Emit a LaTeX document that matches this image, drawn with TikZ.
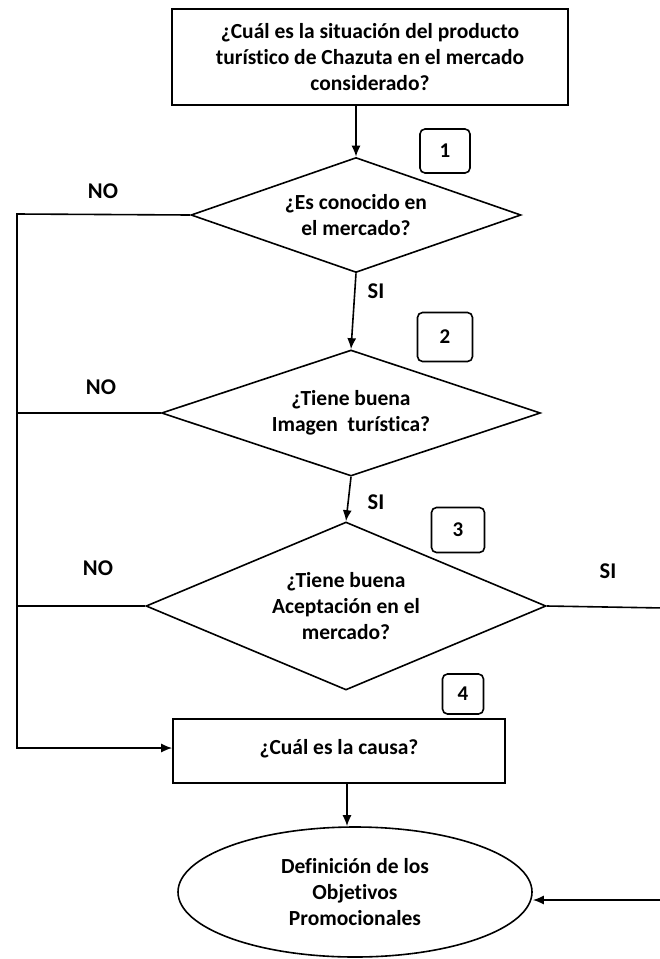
\documentclass[tikz,border=0pt]{standalone}
\usepackage{fontspec}
\setmainfont{Carlito}[Ligatures=NoCommon]
\usetikzlibrary{shapes.geometric,arrows.meta}
\begin{document}
\begin{tikzpicture}[x=1pt,y=-1pt,
  ln/.style={line width=1.6pt},
  arr/.style={line width=1.6pt,-{Latex[length=11pt,width=9pt]}},
  txt/.style={font=\bfseries\fontsize{21.5}{26}\selectfont, align=center},
  rbox/.style={draw, line width=1.6pt, inner sep=0pt, txt},
  dia/.style={draw, diamond, line width=1.6pt, inner sep=0pt, txt},
  numbox/.style={draw, rounded corners=5pt, line width=1.6pt, inner sep=0pt, font=\bfseries\fontsize{21}{24}\selectfont},
  lab/.style={font=\bfseries\fontsize{22.5}{26}\selectfont}]
\useasboundingbox (0,0) rectangle (660,959);

\node[rbox, minimum width=396pt, minimum height=96pt] (q) at (370,57)
  {\fontsize{21.5}{25}\selectfont ¿Cuál es la situación del producto\\turístico de Chazuta en el mercado\\considerado?};

\node[dia, aspect=2.87, minimum width=330pt, minimum height=115pt] (d1) at (356,215)
  {¿Es conocido en\\el mercado?};
\node[dia, aspect=3.0, minimum width=379pt, minimum height=126pt] (d2) at (351,413)
  {¿Tiene buena\\Imagen\ \ turística?};
\node[dia, aspect=2.38, minimum width=400pt, minimum height=168pt] (d3) at (346,606)
  {\fontsize{21.5}{27}\selectfont ¿Tiene buena\\Aceptación en el\\mercado?};

\node[rbox, minimum width=332pt, minimum height=64pt] (b4) at (339,751)
  {\raisebox{9pt}{¿Cuál es la causa?}};

\node[draw, ellipse, line width=1.6pt, inner sep=0pt, txt, minimum width=354pt, minimum height=130pt] (e) at (355,892)
  {\fontsize{21.5}{27.5}\selectfont Definición de los\\Objetivos\\Promocionales};

\node[numbox, minimum width=50pt, minimum height=44pt] (n1) at (445,151) {1};
\node[numbox, minimum width=55pt, minimum height=49pt] (n2) at (445,337) {2};
\node[numbox, minimum width=53pt, minimum height=45pt] (n3) at (458,530) {3};
\node[numbox, minimum width=41pt, minimum height=40pt] (n4) at (463,694) {4};

\node[lab] (no1) at (103,191) {NO};
\node[lab] (no2) at (101,387) {NO};
\node[lab] (no3) at (98,568) {NO};
\node[lab] (si1) at (376,291) {SI};
\node[lab] (si2) at (376,502) {SI};
\node[lab] (si3) at (608,571) {SI};

\coordinate (L1) at (17,214);
\coordinate (L4) at (17,748);
\coordinate (m) at (347,0);
\coordinate (R1) at (664,608);
\coordinate (R2) at (664,900);

\draw[arr] (q.south -| d1.north) -- (d1.north);
\draw[arr] (d1.south) -- (d2.north);
\draw[arr] (d2.south) -- (d3.north);
\draw[arr] (d1.west) -- (L1) -- (L4) -- (L4 -| b4.west);
\draw[ln] (d2.west) -- (d2.west -| L1);
\draw[ln] (d3.west) -- (d3.west -| L1);
\draw[arr] (b4.south -| m) -- (e.north -| m);
\draw[arr] (d3.east) -- (R1) -- (R2) -- (R2 -| e.east);
\end{tikzpicture}
\end{document}
